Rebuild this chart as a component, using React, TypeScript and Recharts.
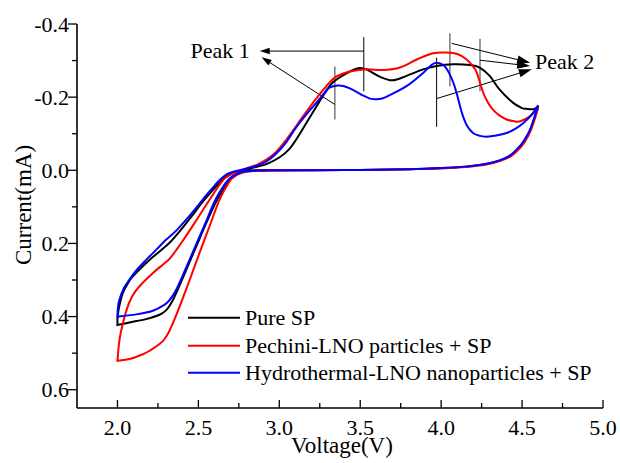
import React from 'react';
import { LineChart, Line, XAxis, YAxis, Legend, ReferenceLine, ReferenceDot, Label } from 'recharts';

const FONT = '"Liberation Serif", "Times New Roman", serif';

// Cyclic voltammetry loops, [voltage (V), current (mA)]
const pureSP: [number, number][] = [
  [4.60, -0.175], [4.58, -0.148], [4.55, -0.11], [4.52, -0.085], [4.49, -0.066], [4.43, -0.040], [4.36, -0.026], [4.28, -0.017], [4.15, -0.010], [4.00, -0.006], [3.80, -0.003], [3.50, -0.001], [3.20, 0.000], [2.95, 0.000], [2.85, 0.000],
  [2.80, 0.002], [2.76, 0.006], [2.734, 0.012], [2.70, 0.024], [2.673, 0.040], [2.611, 0.085], [2.549, 0.144], [2.487, 0.208], [2.425, 0.272], [2.363, 0.336], [2.33, 0.365], [2.30, 0.383], [2.26, 0.395], [2.177, 0.407], [2.074, 0.416], [2.00, 0.423], [2.00, 0.423],
  [2.001, 0.40], [2.012, 0.37], [2.033, 0.336], [2.07, 0.305], [2.095, 0.29], [2.15, 0.265], [2.198, 0.245], [2.26, 0.222], [2.32, 0.199], [2.384, 0.167], [2.466, 0.121], [2.52, 0.09], [2.57, 0.064], [2.65, 0.025], [2.70, 0.010], [2.75, 0.002],
  [2.82, -0.005], [2.92, -0.017], [3.00, -0.035], [3.06, -0.057], [3.12, -0.095], [3.168, -0.13], [3.23, -0.175], [3.28, -0.21], [3.33, -0.24], [3.415, -0.265], [3.487, -0.279], [3.53, -0.277], [3.56, -0.271], [3.62, -0.256], [3.70, -0.246], [3.786, -0.258], [3.889, -0.276], [3.971, -0.285], [4.074, -0.29], [4.177, -0.288], [4.238, -0.281], [4.30, -0.258], [4.36, -0.221], [4.443, -0.185], [4.50, -0.17], [4.526, -0.168], [4.57, -0.167], [4.60, -0.175],
];

const pechini: [number, number][] = [
  [4.60, -0.172], [4.58, -0.142], [4.55, -0.105], [4.52, -0.080], [4.49, -0.062], [4.43, -0.038], [4.36, -0.025], [4.28, -0.016], [4.15, -0.009], [4.00, -0.005], [3.80, -0.003], [3.50, -0.001], [3.20, 0.000], [2.95, 0.001], [2.85, 0.002],
  [2.80, 0.004], [2.755, 0.009], [2.72, 0.018], [2.693, 0.030], [2.631, 0.080], [2.569, 0.153], [2.507, 0.226], [2.446, 0.300], [2.384, 0.373], [2.35, 0.41], [2.32, 0.440], [2.29, 0.462], [2.26, 0.475], [2.20, 0.493], [2.157, 0.503], [2.074, 0.516], [2.00, 0.521], [2.00, 0.521],
  [2.008, 0.48], [2.02, 0.445], [2.054, 0.385], [2.09, 0.345], [2.14, 0.315], [2.219, 0.281], [2.28, 0.258], [2.32, 0.243], [2.36, 0.22], [2.405, 0.192], [2.487, 0.137], [2.57, 0.08], [2.65, 0.028], [2.70, 0.012], [2.75, 0.003],
  [2.80, -0.006], [2.86, -0.015], [2.92, -0.029], [2.98, -0.05], [3.044, -0.084], [3.10, -0.118], [3.147, -0.148], [3.24, -0.203], [3.33, -0.249], [3.38, -0.262], [3.435, -0.27], [3.54, -0.276], [3.64, -0.274], [3.745, -0.281], [3.85, -0.303], [3.95, -0.32], [4.03, -0.322], [4.10, -0.318], [4.158, -0.303], [4.20, -0.282], [4.22, -0.267], [4.26, -0.212], [4.29, -0.185], [4.32, -0.166], [4.36, -0.15], [4.405, -0.139], [4.45, -0.134], [4.49, -0.134], [4.55, -0.148], [4.60, -0.172],
];

const hydrothermal: [number, number][] = [
  [4.60, -0.178], [4.58, -0.150], [4.55, -0.112], [4.52, -0.087], [4.49, -0.068], [4.43, -0.042], [4.36, -0.027], [4.28, -0.018], [4.15, -0.010], [4.00, -0.006], [3.80, -0.003], [3.50, -0.001], [3.20, 0.000], [2.95, 0.000], [2.85, 0.001],
  [2.79, 0.003], [2.75, 0.008], [2.70, 0.020], [2.66, 0.040], [2.60, 0.085], [2.54, 0.148], [2.477, 0.212], [2.415, 0.276], [2.358, 0.331], [2.32, 0.356], [2.29, 0.368], [2.219, 0.384], [2.116, 0.394], [2.00, 0.400], [2.00, 0.400],
  [2.003, 0.375], [2.012, 0.354], [2.04, 0.322], [2.074, 0.299], [2.12, 0.272], [2.177, 0.245], [2.24, 0.217], [2.30, 0.19], [2.363, 0.165], [2.446, 0.124], [2.50, 0.095], [2.549, 0.068], [2.60, 0.042], [2.631, 0.027], [2.68, 0.010], [2.734, 0.002],
  [2.80, -0.005], [2.86, -0.012], [2.92, -0.024], [2.98, -0.045], [3.04, -0.075], [3.09, -0.108], [3.126, -0.13], [3.18, -0.16], [3.23, -0.185], [3.28, -0.212], [3.31, -0.226], [3.363, -0.232], [3.40, -0.23], [3.435, -0.224], [3.48, -0.214], [3.52, -0.204], [3.56, -0.196], [3.60, -0.194], [3.64, -0.197], [3.68, -0.205], [3.786, -0.23], [3.89, -0.267], [3.94, -0.288], [3.97, -0.294], [4.01, -0.289], [4.03, -0.28], [4.05, -0.265], [4.075, -0.24], [4.095, -0.212], [4.115, -0.178], [4.135, -0.148], [4.16, -0.122], [4.197, -0.102], [4.24, -0.094], [4.28, -0.092], [4.34, -0.095], [4.405, -0.102], [4.46, -0.114], [4.51, -0.13], [4.56, -0.152], [4.60, -0.178],
];

const seriesNames = ['Pure SP', 'Pechini-LNO particles + SP', 'Hydrothermal-LNO nanoparticles + SP'];
const seriesColors = ['#000000', '#ff0000', '#0000ff'];

const xTicks = [2.0, 2.25, 2.5, 2.75, 3.0, 3.25, 3.5, 3.75, 4.0, 4.25, 4.5, 4.75, 5.0];
const yTicks = [-0.4, -0.3, -0.2, -0.1, 0.0, 0.1, 0.2, 0.3, 0.4, 0.5, 0.6];
const xDomain: [number, number] = [1.75, 5.0];
const yDomain: [number, number] = [-0.4, 0.65];

// Annotation guides: vertical markers [voltage, fromCurrent, toCurrent, color]
const markers: [number, number, number, string][] = [
  [3.522, -0.364, -0.216, '#000000'],
  [3.343, -0.284, -0.139, '#808080'],
  [3.972, -0.308, -0.119, '#000000'],
  [4.054, -0.375, -0.230, '#808080'],
  [4.240, -0.360, -0.216, '#808080'],
];
// Arrows [fromV, fromI, toV, toI, headLength]
const arrows: [number, number, number, number, number][] = [
  [3.522, -0.326, 2.879, -0.326, 10],
  [3.343, -0.180, 2.891, -0.309, 10],
  [4.065, -0.347, 4.550, -0.294, 13],
  [4.240, -0.301, 4.550, -0.285, 13],
  [3.972, -0.196, 4.560, -0.276, 13],
];
// Labels [text, voltage, current, anchor]
const peakLabels: [string, number, number, string][] = [
  ['Peak 1', 2.817, -0.306, 'end'],
  ['Peak 2', 4.58, -0.278, 'start'],
];

const toData = (pts: [number, number][]) => pts.map(([v, i]) => ({ v, i }));

// Catmull-Rom curve factory (parametric, handles loops)
const catmullRom = (context: any) => {
  let pts: number[][] = [];
  return {
    areaStart() {},
    areaEnd() {},
    lineStart() { pts = []; },
    point(x: number, y: number) { pts.push([x, y]); },
    lineEnd() {
      if (!pts.length) return;
      context.moveTo(pts[0][0], pts[0][1]);
      for (let k = 0; k < pts.length - 1; k++) {
        const p0 = pts[Math.max(k - 1, 0)];
        const p1 = pts[k];
        const p2 = pts[k + 1];
        const p3 = pts[Math.min(k + 2, pts.length - 1)];
        if (p1[0] === p2[0] && p1[1] === p2[1]) continue;
        context.bezierCurveTo(
          p1[0] + (p2[0] - p0[0]) / 6, p1[1] + (p2[1] - p0[1]) / 6,
          p2[0] - (p3[0] - p1[0]) / 6, p2[1] - (p3[1] - p1[1]) / 6,
          p2[0], p2[1]
        );
      }
    },
  };
};

const isMajorX = (v: number) => Math.abs(v * 2 - Math.round(v * 2)) < 1e-6;
const isMajorY = (v: number) => Math.abs(v * 5 - Math.round(v * 5)) < 1e-6;

const BottomTick = (p: any) => {
  const major = isMajorX(p.payload.value);
  return (
    <g>
      <line x1={p.x} x2={p.x} y1={p.y} y2={p.y - (major ? 8 : 5)} stroke="#000" strokeWidth={1.3} />
      {major && (
        <text x={p.x} y={p.y + 27} textAnchor="middle" fontFamily={FONT} fontSize={22} fill="#000">
          {p.payload.value.toFixed(1)}
        </text>
      )}
    </g>
  );
};
const TopTick = (p: any) => {
  const major = isMajorX(p.payload.value);
  return <line x1={p.x} x2={p.x} y1={p.y} y2={p.y + (major ? 5 : 3)} stroke="#000" strokeWidth={1.3} />;
};
const LeftTick = (p: any) => {
  const major = isMajorY(p.payload.value);
  return (
    <g>
      <line x1={p.x} x2={p.x - (major ? 9 : 5)} y1={p.y} y2={p.y} stroke="#000" strokeWidth={1.3} />
      {major && (
        <text x={p.x - 8} y={p.y + 7.5} textAnchor="end" fontFamily={FONT} fontSize={22} fill="#000">
          {p.payload.value.toFixed(1)}
        </text>
      )}
    </g>
  );
};
const RightTick = (p: any) => {
  const major = isMajorY(p.payload.value);
  return <line x1={p.x} x2={p.x - (major ? 5 : 3)} y1={p.y} y2={p.y} stroke="#000" strokeWidth={1.3} />;
};

const arrowShape = (head: number) => (p: any) => {
  const { x1, y1, x2, y2 } = p;
  const dx = x2 - x1;
  const dy = y2 - y1;
  const len = Math.sqrt(dx * dx + dy * dy) || 1;
  const ux = dx / len;
  const uy = dy / len;
  const bx = x2 - ux * head;
  const by = y2 - uy * head;
  const w = head * 0.32;
  return (
    <g>
      <line x1={x1} y1={y1} x2={bx + ux * 1} y2={by + uy * 1} stroke="#000" strokeWidth={1} />
      <polygon points={`${x2},${y2} ${bx - uy * w},${by + ux * w} ${bx + uy * w},${by - ux * w}`} fill="#000" />
    </g>
  );
};

const renderLegend = (props: any) => {
  const items = [...(props.payload || [])].sort(
    (a: any, b: any) => seriesNames.indexOf(a.value) - seriesNames.indexOf(b.value)
  );
  return (
    <div style={{ fontFamily: FONT, fontSize: 22, color: '#000' }}>
      {items.map((e: any) => (
        <div key={e.value} style={{ display: 'flex', alignItems: 'center', height: 27.5, whiteSpace: 'nowrap' }}>
          <svg width={57} height={27.5} style={{ display: 'block' }}>
            <line x1={0} x2={52} y1={13.75} y2={13.75} stroke={e.color} strokeWidth={2.2} />
          </svg>
          <span style={{ lineHeight: '27.5px' }}>{e.value}</span>
        </div>
      ))}
    </div>
  );
};

export default function App() {
  const loops = [pureSP, pechini, hydrothermal];
  return (
    <div style={{ position: 'absolute', left: 0, top: 0, width: 620, height: 463, background: '#fff' }}>
      <LineChart width={620} height={463} margin={{ top: 24, right: 17, bottom: 0, left: 0 }}>
        <XAxis
          xAxisId="x" type="number" dataKey="v" domain={xDomain} ticks={xTicks} allowDataOverflow
          height={55} tickSize={0} tickMargin={0} tickLine={false} interval={0}
          axisLine={{ stroke: '#000', strokeWidth: 1.6 }} tick={BottomTick}
        >
          <Label
            content={(p: any) => (
              <text x={p.viewBox.x + p.viewBox.width / 2 + 2} y={p.viewBox.y + 45} textAnchor="middle" fontFamily={FONT} fontSize={23} fill="#000">
                Voltage(V)
              </text>
            )}
          />
        </XAxis>
        <XAxis
          xAxisId="top" orientation="top" type="number" domain={xDomain} ticks={xTicks} allowDataOverflow
          height={0} tickSize={0} tickMargin={0} tickLine={false} interval={0}
          axisLine={{ stroke: '#000', strokeWidth: 1.6 }} tick={TopTick}
        />
        <YAxis
          yAxisId="y" type="number" domain={yDomain} ticks={yTicks} reversed allowDataOverflow
          width={77} tickSize={0} tickMargin={0} tickLine={false} interval={0}
          axisLine={{ stroke: '#000', strokeWidth: 1.6 }} tick={LeftTick}
        >
          <Label
            content={(p: any) => {
              const cx = p.viewBox.x + 31;
              const cy = p.viewBox.y + p.viewBox.height / 2 - 11;
              return (
                <text x={cx} y={cy} transform={`rotate(-90 ${cx} ${cy})`} textAnchor="middle" fontFamily={FONT} fontSize={23} fill="#000">
                  Current(mA)
                </text>
              );
            }}
          />
        </YAxis>
        <YAxis
          yAxisId="right" orientation="right" type="number" domain={yDomain} ticks={yTicks} reversed allowDataOverflow
          width={0} tickSize={0} tickMargin={0} tickLine={false} interval={0}
          axisLine={{ stroke: '#000', strokeWidth: 1.6 }} tick={RightTick}
        />

        {markers.map(([v, a, b, color], k) => (
          <ReferenceLine
            key={`m${k}`} xAxisId="x" yAxisId="y"
            segment={[{ x: v, y: a }, { x: v, y: b }]}
            stroke={color} strokeWidth={color === '#000000' ? 1 : 1.6}
          />
        ))}
        {arrows.map(([v1, i1, v2, i2, head], k) => (
          <ReferenceLine
            key={`a${k}`} xAxisId="x" yAxisId="y"
            segment={[{ x: v1, y: i1 }, { x: v2, y: i2 }]}
            shape={arrowShape(head)}
          />
        ))}
        {peakLabels.map(([text, v, i, anchor]) => (
          <ReferenceDot
            key={text} xAxisId="x" yAxisId="y" x={v} y={i} r={0}
            shape={(p: any) => (
              <text x={p.cx} y={p.cy} textAnchor={anchor as any} fontFamily={FONT} fontSize={22} fill="#000">
                {text}
              </text>
            )}
          />
        ))}

        {loops.map((pts, k) => (
          <Line
            key={seriesNames[k]} xAxisId="x" yAxisId="y"
            data={toData(pts)} dataKey="i" name={seriesNames[k]}
            stroke={seriesColors[k]} strokeWidth={2} dot={false} activeDot={false}
            type={catmullRom as any} isAnimationActive={false}
          />
        ))}

        <Legend
          layout="vertical" align="center" verticalAlign="middle"
          wrapperStyle={{ position: 'absolute', left: 188, top: 304, width: 'auto', height: 'auto' }}
          content={renderLegend}
        />
      </LineChart>
    </div>
  );
}
